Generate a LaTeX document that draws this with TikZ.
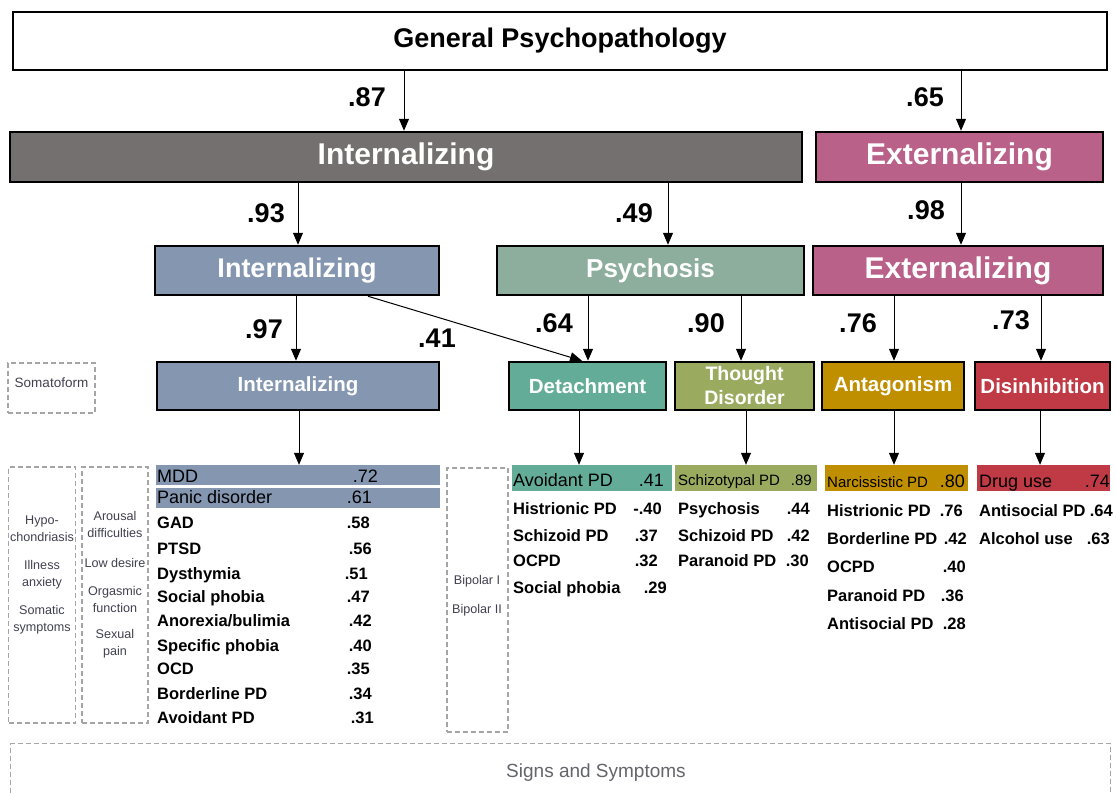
\documentclass[tikz,border=0pt]{standalone}
\usepackage{fontspec}
\setmainfont{Liberation Sans}
\usetikzlibrary{arrows.meta}
\definecolor{cGrey}{RGB}{117,112,112}
\definecolor{cPink}{RGB}{185,97,137}
\definecolor{cSlate}{RGB}{132,150,176}
\definecolor{cPsy}{RGB}{141,173,157}
\definecolor{cTeal}{RGB}{99,173,152}
\definecolor{cOlive}{RGB}{154,171,96}
\definecolor{cGold}{RGB}{191,143,0}
\definecolor{cRed}{RGB}{191,58,68}
\definecolor{cDash}{RGB}{165,165,165}
\definecolor{cSmall}{RGB}{65,65,80}
\newcommand\fs[1]{\fontsize{#1}{#1}\selectfont}
\tikzset{
 facbox/.style={draw=black, line width=2.5pt, inner sep=0pt, text=white, align=center},
 conn/.style={line width=1pt, -{Triangle[length=12pt,width=10pt]}},
 load/.style={font=\fs{27}\bfseries, inner sep=0pt},
 dbox/.style={draw=cDash, line width=1.2pt, dash pattern=on 5pt off 3pt, inner sep=0pt},
 small/.style={text=cSmall, font=\fontsize{12.6}{17}\selectfont, align=center, inner sep=0pt},
 hl/.style={draw=none, inner sep=0pt},
 item/.style={anchor=base west, inner sep=0pt, font=\fs{16.5}\bfseries},
 itemr/.style={anchor=base west, inner sep=0pt, font=\fs{18}},
 val/.style={anchor=base east, inner sep=0pt, font=\fs{16.5}\bfseries},
 valr/.style={anchor=base east, inner sep=0pt, font=\fs{18}},
}
\newcommand\myrow[6]{\node[item] (#1n) at (#2,#3) {#4}; \node[val] (#1v) at (#5,#3) {#6};}
\begin{document}
\begin{tikzpicture}[x=1pt,y=-1pt]
\clip (0,0) rectangle (1116,793);
\fill[white] (0,0) rectangle (1116,793);

% ---- factor boxes
\node[facbox, fill=white, text=black, line width=2pt, minimum width=1094pt, minimum height=58pt, font=\fs{27}\bfseries] (gp) at (560,41) {General Psychopathology};
\node[facbox, fill=cGrey, minimum width=792pt, minimum height=50pt, font=\fs{30}\bfseries] (intA) at (406,157) {Internalizing};
\node[facbox, fill=cPink, minimum width=287pt, minimum height=50pt, font=\fs{30}\bfseries] (extA) at (959.5,157) {Externalizing};
\node[facbox, fill=cSlate, minimum width=284pt, minimum height=49pt, font=\fs{27}\bfseries] (intB) at (297,270.5) {Internalizing};
\node[facbox, fill=cPsy, minimum width=307pt, minimum height=49pt, font=\fs{26}\bfseries] (psy) at (650.5,270.5) {Psychosis};
\node[facbox, fill=cPink, minimum width=290pt, minimum height=49pt, font=\fs{30}\bfseries] (extB) at (958,270.5) {Externalizing};
\node[facbox, fill=cSlate, minimum width=282pt, minimum height=48pt, font=\fs{20.5}\bfseries] (intC) at (298,386) {Internalizing};
\node[facbox, fill=cTeal, minimum width=157pt, minimum height=48pt, font=\fs{20.5}\bfseries] (det) at (587.5,386) {Detachment};
\node[facbox, fill=cOlive, minimum width=139pt, minimum height=48pt, font=\fontsize{19.5}{24}\selectfont\bfseries] (tho) at (744.5,386) {Thought\\Disorder};
\node[facbox, fill=cGold, minimum width=142pt, minimum height=48pt, font=\fs{20.5}\bfseries] (ant) at (893,386) {Antagonism};
\node[facbox, fill=cRed, minimum width=135pt, minimum height=48pt, font=\fs{20.5}\bfseries] (dis) at (1042.5,386) {Disinhibition};

% ---- arrow x positions
\coordinate (x87) at (404,0);
\coordinate (x65) at (961,0);
\coordinate (x93) at (298,0);
\coordinate (x49) at (668,0);
\coordinate (x98) at (961,0);
\coordinate (x97) at (296,0);
\coordinate (x41s) at (368,0);
\coordinate (x41e) at (582,0);
\coordinate (x64) at (588,0);
\coordinate (x90) at (741,0);
\coordinate (x76) at (894,0);
\coordinate (x73) at (1041,0);
\coordinate (xl1) at (299,0);
\coordinate (xl2) at (579,0);
\coordinate (xl3) at (746,0);
\coordinate (xl4) at (894,0);
\coordinate (xl5) at (1040,0);

\draw[conn] (gp.south -| x87) -- (intA.north -| x87);
\draw[conn] (gp.south -| x65) -- (extA.north -| x65);
\draw[conn] (intA.south -| x93) -- (intB.north -| x93);
\draw[conn] (intA.south -| x49) -- (psy.north -| x49);
\draw[conn] (extA.south -| x98) -- (extB.north -| x98);
\draw[conn] (intB.south -| x97) -- (intC.north -| x97);
\draw[conn] (intB.south -| x41s) -- (det.north -| x41e);
\draw[conn] (psy.south -| x64) -- (det.north -| x64);
\draw[conn] (psy.south -| x90) -- (tho.north -| x90);
\draw[conn] (extB.south -| x76) -- (ant.north -| x76);
\draw[conn] (extB.south -| x73) -- (dis.north -| x73);

% ---- loadings
\node[load] (l87) at (367,97) {.87};
\node[load] (l65) at (925,97) {.65};
\node[load] (l93) at (266,213) {.93};
\node[load] (l49) at (634,213) {.49};
\node[load] (l98) at (926,210) {.98};
\node[load] (l97) at (264,329) {.97};
\node[load] (l41) at (437,338) {.41};
\node[load] (l64) at (554,323) {.64};
\node[load] (l90) at (706,323) {.90};
\node[load] (l76) at (858,323) {.76};
\node[load] (l73) at (1011,320) {.73};

% ---- highlighted rows
\node[hl, fill=cSlate, minimum width=284pt, minimum height=20pt] (mddrow) at (298,475) {};
\node[hl, fill=cSlate, minimum width=284pt, minimum height=20pt] (panrow) at (298,497.5) {};
\node[hl, fill=cTeal, minimum width=160pt, minimum height=26pt] (detrow) at (592,478) {};
\node[hl, fill=cOlive, minimum width=142pt, minimum height=26pt] (thorow) at (746,478) {};
\node[hl, fill=cGold, minimum width=143pt, minimum height=26pt] (antrow) at (896.5,478) {};
\node[hl, fill=cRed, minimum width=133pt, minimum height=26pt] (disrow) at (1043.5,478) {};

\draw[conn] (intC.south -| xl1) -- (mddrow.north -| xl1);
\draw[conn] (det.south -| xl2) -- (detrow.north -| xl2);
\draw[conn] (tho.south -| xl3) -- (thorow.north -| xl3);
\draw[conn] (ant.south -| xl4) -- (antrow.north -| xl4);
\draw[conn] (dis.south -| xl5) -- (disrow.north -| xl5);

% ---- Internalizing list
\node[itemr] (i1n) at (157,482) {MDD}; \node[valr] (i1v) at (378,482) {.72};
\node[itemr] (i2n) at (157,503) {Panic disorder}; \node[valr] (i2v) at (372,503) {.61};
\myrow{i3}{157}{528}{GAD}{370}{.58}
\myrow{i4}{157}{554}{PTSD}{372}{.56}
\myrow{i5}{157}{579}{Dysthymia}{368}{.51}
\myrow{i6}{157}{602}{Social phobia}{370}{.47}
\myrow{i7}{157}{626}{Anorexia/bulimia}{372}{.42}
\myrow{i8}{157}{651}{Specific phobia}{372}{.40}
\myrow{i9}{157}{674}{OCD}{370}{.35}
\myrow{i10}{157}{699}{Borderline PD}{372}{.34}
\myrow{i11}{157}{723}{Avoidant PD}{374}{.31}

% ---- Detachment list
\node[itemr] (d1n) at (513,486) {Avoidant PD}; \node[valr] (d1v) at (664,486) {.41};
\myrow{d2}{513}{514}{Histrionic PD}{662}{-.40}
\myrow{d3}{513}{541}{Schizoid PD}{658}{.37}
\myrow{d4}{513}{566}{OCPD}{658}{.32}
\myrow{d5}{513}{593}{Social phobia}{667}{.29}

% ---- Thought disorder list
\node[itemr, font=\fs{15}] (t1n) at (678,485.5) {Schizotypal PD}; \node[valr, font=\fs{15}] (t1v) at (812,485.5) {.89};
\myrow{t2}{678}{514}{Psychosis}{810}{.44}
\myrow{t3}{678}{541}{Schizoid PD}{810}{.42}
\myrow{t4}{678}{566}{Paranoid PD}{809}{.30}

% ---- Antagonism list
\node[itemr, font=\fs{15}] (a1n) at (827,487) {Narcissistic PD}; \node[valr] (a1v) at (965,487) {.80};
\myrow{a2}{827}{516}{Histrionic PD}{963}{.76}
\myrow{a3}{827}{544}{Borderline PD}{967}{.42}
\myrow{a4}{827}{572}{OCPD}{966}{.40}
\myrow{a5}{827}{601}{Paranoid PD}{964}{.36}
\myrow{a6}{827}{629}{Antisocial PD}{966}{.28}

% ---- Disinhibition list
\node[itemr] (s1n) at (979,487) {Drug use}; \node[valr] (s1v) at (1110,487) {.74};
\myrow{s2}{979}{516}{Antisocial PD}{1113}{.64}
\myrow{s3}{979}{544}{Alcohol use}{1110}{.63}

% ---- dashed boxes
\node[dbox, minimum width=87pt, minimum height=50pt] (somabox) at (51.5,388) {};
\node[small, font=\fs{13.5}] (soma) at (51.5,383) {Somatoform};
\node[dbox, minimum width=67pt, minimum height=256pt] (hypobox) at (42,595) {};
\node[small] (hypo) at (42,528.5) {Hypo-\\chondriasis};
\node[small] (ill) at (42,574.5) {Illness\\anxiety};
\node[small] (som) at (42,620) {Somatic\\symptoms};
\node[dbox, minimum width=66pt, minimum height=256pt] (sexbox) at (115,595) {};
\node[small] (aro) at (115,524.5) {Arousal\\difficulties};
\node[small] (low) at (115,563) {Low desire};
\node[small] (org) at (115,599.5) {Orgasmic\\function};
\node[small] (sex) at (115,644) {Sexual\\pain};
\node[dbox, minimum width=61pt, minimum height=264pt] (bipbox) at (477.5,600) {};
\node[small] (bip1) at (477,581) {Bipolar I};
\node[small] (bip2) at (477,610) {Bipolar II};
\node[dbox, minimum width=1100pt, minimum height=60pt, anchor=north west] (signs) at (10,743) {};
\node[inner sep=0pt, text={rgb,255:red,100;green,100;blue,108}, font=\fs{19}] (signst) at (596,773) {Signs and Symptoms};
\end{tikzpicture}
\end{document}
